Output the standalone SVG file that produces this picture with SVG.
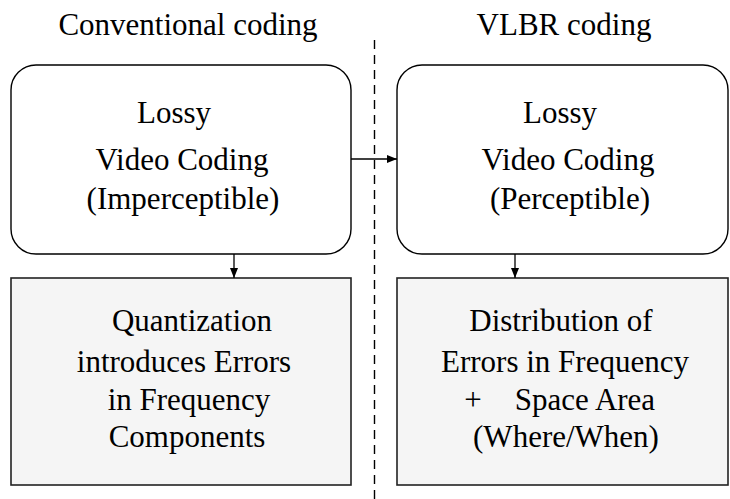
<svg xmlns="http://www.w3.org/2000/svg" width="730" height="499" viewBox="0 0 730 499">
<style>
text{font-family:'Liberation Serif','Times New Roman',Times,'DejaVu Serif',serif;font-size:31px;fill:#000;text-anchor:middle}
.rbox{fill:#fff;stroke:#000;stroke-width:1.4}
.sbox{fill:#f5f5f5;stroke:#222;stroke-width:1.6}
.conn{stroke:#000;stroke-width:1.3;fill:none}
.div{stroke:#000;stroke-width:1.4;stroke-dasharray:9,6;fill:none}
</style>
<defs>
<marker id="ah" viewBox="0 0 10 8" refX="10" refY="4" markerWidth="10" markerHeight="8" markerUnits="userSpaceOnUse" orient="auto">
<path d="M0,0 L10,4 L0,8 Z" fill="#000"/>
</marker>
</defs>
<g font-family="Liberation Serif, Times New Roman, serif">
<g id="titles">
<text x="188" y="35">Conventional coding</text>
<text x="564" y="35">VLBR coding</text>
</g>
<line id="divider" class="div" x1="374.5" y1="40" x2="374.5" y2="499"/>
<g id="lossy-conv">
<rect class="rbox" x="11" y="65" width="340" height="189" rx="25" ry="25"/>
<text x="174" y="123">Lossy</text>
<text x="182" y="170">Video Coding</text>
<text x="183" y="209">(Imperceptible)</text>
</g>
<g id="lossy-vlbr">
<rect class="rbox" x="397" y="65" width="331" height="189" rx="25" ry="25"/>
<text x="560" y="123">Lossy</text>
<text x="568" y="170">Video Coding</text>
<text x="570" y="209">(Perceptible)</text>
</g>
<g id="quant">
<rect class="sbox" x="11" y="278" width="340" height="207"/>
<text x="192" y="331">Quantization</text>
<text x="184" y="372">introduces Errors</text>
<text x="189" y="410">in Frequency</text>
<text x="187" y="447">Components</text>
</g>
<g id="distrib">
<rect class="sbox" x="397" y="278" width="331" height="207"/>
<text x="561" y="331">Distribution of</text>
<text x="565" y="372">Errors in Frequency</text>
<text y="410"><tspan x="473">+</tspan><tspan x="585">Space Area</tspan></text>
<text x="566" y="447">(Where/When)</text>
</g>
<g id="connectors">
<line class="conn" x1="351" y1="159" x2="397" y2="159" marker-end="url(#ah)"/>
<line class="conn" x1="234" y1="254" x2="234" y2="278" marker-end="url(#ah)"/>
<line class="conn" x1="515" y1="254" x2="515" y2="278" marker-end="url(#ah)"/>
</g>
</g>
</svg>
